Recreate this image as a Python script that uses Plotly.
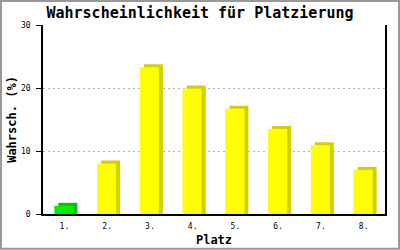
import plotly.graph_objects as go

categories = ["1.", "2.", "3.", "4.", "5.", "6.", "7.", "8."]
values = [1.3, 8.0, 23.3, 19.9, 16.7, 13.5, 10.9, 7.0]
y_ticks = [0, 10, 20, 30]

front_colors = ["#00f000"] + ["#ffff00"] * 7
side_colors = ["#00c800"] + ["#d4d000"] * 7

depth_y = 0.48   # 3D depth in value units (~3px)
FONT = "DejaVu Sans Mono"

fig = go.Figure()
# side / shadow face
fig.add_trace(go.Bar(
    x=categories, y=[v + depth_y for v in values], base=0,
    offset=-0.14, width=0.445,
    marker=dict(color=side_colors, line=dict(width=0)),
    hoverinfo="skip", showlegend=False))
# front face
fig.add_trace(go.Bar(
    x=categories, y=values,
    offset=-0.235, width=0.445,
    marker=dict(color=front_colors, line=dict(width=0)),
    showlegend=False))

fig.update_layout(
    width=400, height=250,
    margin=dict(l=43, r=15, t=25, b=36, autoexpand=False),
    paper_bgcolor="white", plot_bgcolor="white",
    barmode="overlay",
    title=dict(text="<b>Wahrscheinlichkeit für Platzierung</b>",
               font=dict(family=FONT, size=15, color="black"),
               x=0.5, xanchor="center", xref="container",
               y=1, yref="container", yanchor="top", pad=dict(t=7)),
    xaxis=dict(
        type="category", range=[-0.5, 7.5], automargin=False,
        showline=True, linecolor="black", linewidth=1.5,
        ticks="", showgrid=False, ticklabelstandoff=4,
        tickfont=dict(family=FONT, size=8, color="black"),
        title=dict(text="<b>Platz</b>", font=dict(family=FONT, size=12, color="black"),
                   standoff=5),
    ),
    yaxis=dict(
        range=[0, 30], tickvals=y_ticks, automargin=False,
        showline=True, mirror=True, linecolor="black", linewidth=1.5,
        ticks="outside", ticklen=5, tickcolor="black", tickwidth=1,
        ticklabelstandoff=4,
        showgrid=True, gridcolor="#b4b4b4", griddash="2px,3px", gridwidth=1,
        zeroline=False,
        tickfont=dict(family=FONT, size=8, color="black"),
        title=dict(text="<b>Wahrsch. (%)</b>", font=dict(family=FONT, size=12, color="black"),
                   standoff=2),
    ),
    shapes=[dict(type="rect", xref="paper", yref="paper",
                 x0=-0.1228, x1=1.041, y0=-0.1833, y1=1.1268,
                 line=dict(color="#999999", width=2), fillcolor="rgba(0,0,0,0)",
                 layer="above")],
)

fig.write_html("out.html")
